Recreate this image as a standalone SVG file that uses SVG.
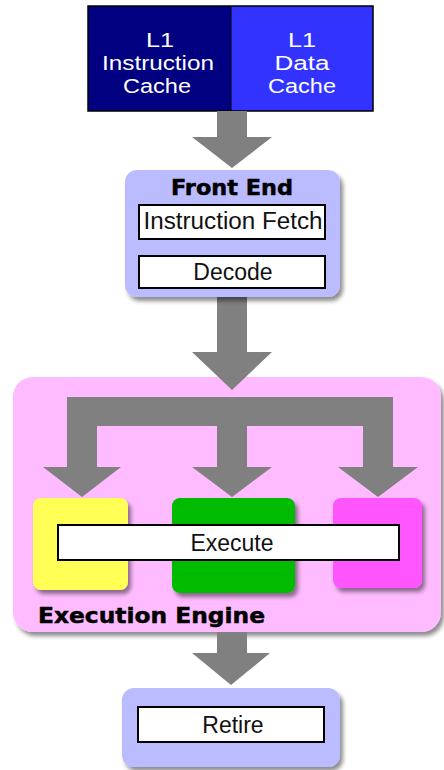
<svg xmlns="http://www.w3.org/2000/svg" width="444" height="770" viewBox="0 0 444 770">
<style>
.lbl{font-family:"Liberation Sans",Arial,sans-serif;font-size:23px;text-anchor:middle;fill:#111}
.wlbl{font-family:"Liberation Sans",Arial,sans-serif;font-size:20px;text-anchor:middle;fill:#fff}
.bold{font-family:"DejaVu Sans",sans-serif;font-weight:bold;font-size:22px;fill:#000;stroke:#000;stroke-width:0.5}
.inner{fill:#fff;stroke:#000;stroke-width:2}
.arrow{fill:#808080}
.shadow{filter:url(#sh)}
</style>
<defs>
<filter id="sh" x="-10%" y="-10%" width="130%" height="130%">
<feDropShadow dx="3" dy="4" stdDeviation="2" flood-color="#000" flood-opacity="0.45"/>
</filter>
</defs>
<rect width="444" height="770" fill="#fff"/>

<g id="caches">
<rect x="88" y="6" width="143" height="105" fill="#000080"/>
<rect x="231" y="6" width="142" height="105" fill="#3333ff"/>
<rect x="88" y="6" width="285" height="105" fill="none" stroke="#000" stroke-width="1.5"/>
<line x1="231" y1="6" x2="231" y2="111" stroke="#000" stroke-width="1"/>
<text class="wlbl" x="160" y="47" textLength="28" lengthAdjust="spacingAndGlyphs">L1</text>
<text class="wlbl" x="158" y="70" textLength="112" lengthAdjust="spacingAndGlyphs">Instruction</text>
<text class="wlbl" x="157" y="93" textLength="68" lengthAdjust="spacingAndGlyphs">Cache</text>
<text class="wlbl" x="302" y="47" textLength="28" lengthAdjust="spacingAndGlyphs">L1</text>
<text class="wlbl" x="302" y="70" textLength="55" lengthAdjust="spacingAndGlyphs">Data</text>
<text class="wlbl" x="302" y="93" textLength="68" lengthAdjust="spacingAndGlyphs">Cache</text>
</g>

<g id="execution-engine">
<rect class="shadow" x="13" y="377" width="428" height="255" rx="20" fill="#ffbbff"/>
<text class="bold" x="38" y="623" textLength="227" lengthAdjust="spacingAndGlyphs">Execution Engine</text>
</g>

<g id="connectors">
<polygon class="arrow" points="217,111 247,111 247,137 272,137 232,168 192,137 217,137"/>
<polygon class="arrow" points="217,297 247,297 247,352 272,352 232,390 192,352 217,352"/>
<polygon class="arrow" points="67,397 393,397 393,467 418,467 378,497 338,467 363,467 363,426 247,426 247,467 272,467 232,497 192,467 217,467 217,426 97,426 97,467 121,467 82,497 43,467 67,467"/>
<polygon class="arrow" points="217,632 247,632 247,653 270,653 231,685 192,653 217,653"/>
</g>

<g id="front-end">
<rect class="shadow" x="125" y="170" width="215" height="127" rx="12" fill="#bbbbff"/>
<text class="bold" x="232" y="195" textLength="122" lengthAdjust="spacingAndGlyphs" text-anchor="middle">Front End</text>
<g id="instruction-fetch">
<rect class="inner" x="139" y="205" width="186" height="34"/>
<text class="lbl" x="233" y="229" textLength="179" lengthAdjust="spacingAndGlyphs">Instruction Fetch</text>
</g>
<g id="decode">
<rect class="inner" x="139" y="256" width="186" height="32"/>
<text class="lbl" x="233" y="280">Decode</text>
</g>
</g>

<g id="unit-yellow"><rect class="shadow" x="33" y="498" width="95" height="92" rx="8" fill="#ffff55"/></g>
<g id="unit-green"><rect class="shadow" x="172" y="498" width="123" height="95" rx="8" fill="#00bb00"/></g>
<g id="unit-magenta"><rect class="shadow" x="333" y="498" width="89" height="90" rx="8" fill="#ff55ff"/></g>

<g id="execute">
<rect class="inner" x="58" y="525" width="341" height="35"/>
<text class="lbl" x="232" y="551">Execute</text>
</g>

<g id="retire-stage">
<rect class="shadow" x="122" y="688" width="218" height="79" rx="12" fill="#bbbbff"/>
<g id="retire">
<rect class="inner" x="138" y="707" width="186" height="35"/>
<text class="lbl" x="233" y="733">Retire</text>
</g>
</g>
</svg>
